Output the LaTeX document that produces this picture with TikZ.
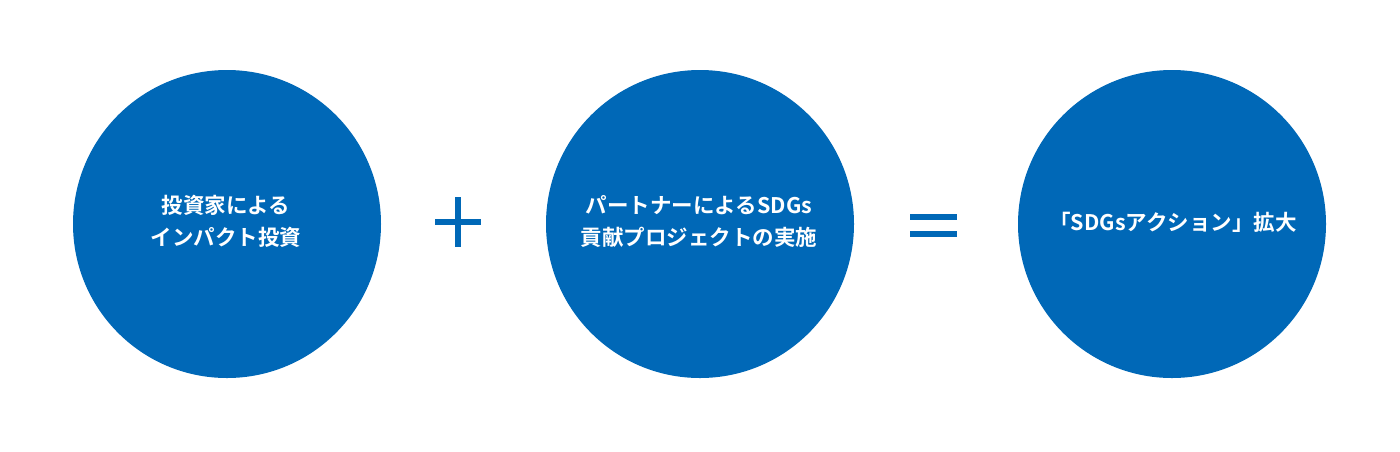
\documentclass[tikz,border=0pt]{standalone}
\usepackage{fontspec}
\usetikzlibrary{calc}
\newfontfamily\jp{Noto Sans CJK JP}[BoldFont={* Bold}]
\definecolor{sdgblue}{HTML}{0068B7}
\begin{document}
\begin{tikzpicture}[x=1pt,y=-1pt,
  bigcircle/.style={circle,fill=sdgblue,minimum size=308pt,inner sep=0pt},
  label/.style={text=white,font=\jp\bfseries\fontsize{21.5}{32}\selectfont,align=center},
  bar/.style={fill=sdgblue,draw=none}]
\useasboundingbox (0,0) rectangle (1400,451);
\node[bigcircle] (c1) at (227,224) {};
\node[bigcircle] (c2) at (700,224) {};
\node[bigcircle] (c3) at (1172,224) {};
\node[label] (t1) at ($(c1)+(-1,-2.5)$) {投資家による\\インパクト投資};
\node[label] (t2) at ($(c2)+(-1,-2.5)$) {パートナーによるSDGs\\貢献プロジェクトの実施};
\node[label] (t3) at ($(c3)+(1,-1.5)$) {「SDGsアクション」拡大};
% plus
\coordinate (p) at (458,222);
\fill[bar] ($(p)+(-23,-3)$) rectangle ($(p)+(23,3)$);
\fill[bar] ($(p)+(-3,-25)$) rectangle ($(p)+(3,25)$);
% equals
\coordinate (e) at (933.5,225.5);
\fill[bar] ($(e)+(-23.5,-11.5)$) rectangle ($(e)+(23.5,-5.5)$);
\fill[bar] ($(e)+(-23.5,5.5)$) rectangle ($(e)+(23.5,11.5)$);
\end{tikzpicture}
\end{document}
